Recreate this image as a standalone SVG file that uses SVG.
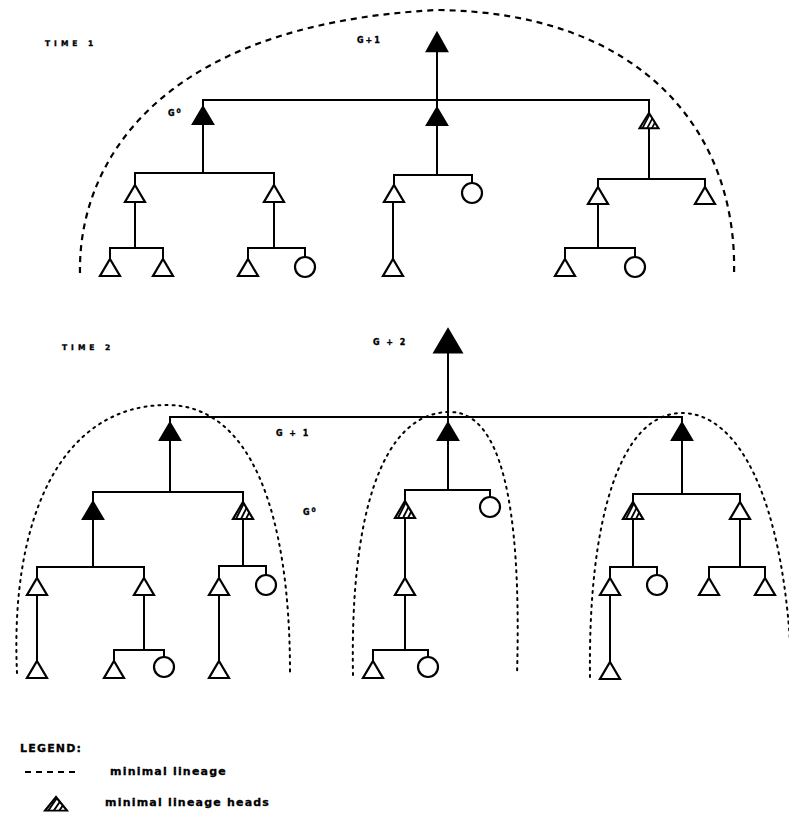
<svg xmlns="http://www.w3.org/2000/svg" xmlns:xlink="http://www.w3.org/1999/xlink" width="789" height="813" viewBox="0 0 789 813">
  <style>
    .ln { fill: none; stroke: #000; stroke-width: 2; stroke-linecap: square; }
    .dash { fill: none; stroke: #000; stroke-width: 2.2; stroke-dasharray: 6 5; }
    .dot { fill: none; stroke: #000; stroke-width: 2; stroke-dasharray: 2 5; stroke-linecap: round; }
    .open { fill: #fff; stroke: #000; stroke-width: 2.2; stroke-linejoin: miter; }
    .solid { fill: #000; stroke: #000; stroke-width: 2.2; }
    .circ { fill: #fff; stroke: #000; stroke-width: 2.2; }
    .lbl { font-family: "DejaVu Sans", "Liberation Sans", sans-serif; font-weight: bold; fill: #000; stroke: #000; stroke-width: 0.35; }
    .small { font-size: 7.5px; letter-spacing: 4px; }
    .gen { font-size: 8px; letter-spacing: 2px; }
    .leg { font-size: 11px; letter-spacing: 1.2px; stroke-width: 0.3; }
  </style>
  <defs>
    <clipPath id="triClip">
      <path d="M0,0 L10,17 L-10,17 Z"/>
    </clipPath>
    <!-- triangle glyphs: apex at origin, base 17 below -->
    <path id="tri" d="M0,0 L10,17 L-10,17 Z"/>
    <g id="tri-open"><use xlink:href="#tri" class="open"/></g>
    <g id="tri-solid"><use xlink:href="#tri" class="solid"/></g>
    <g id="tri-hatch">
      <use xlink:href="#tri" fill="#fff"/>
      <g clip-path="url(#triClip)" stroke="#000" stroke-width="1.8">
        <line x1="-7" y1="17" x2="1.5" y2="0"/>
        <line x1="-2" y1="17" x2="6.5" y2="0"/>
        <line x1="3" y1="17" x2="11.5" y2="0"/>
      </g>
      <use xlink:href="#tri" fill="none" stroke="#000" stroke-width="2.2"/>
    </g>
  </defs>

  <rect width="789" height="813" fill="#fff"/>

  <!-- lineage boundaries -->
  <g id="boundaries">
    <path class="dash" d="M80,273 C78,170 150,25 437,10 C640,12 738,130 734,275"/>
    <path class="dot" d="M17,673 C10,520 60,405 167,405 C250,405 290,510 290,673"/>
    <path class="dot" d="M353,675 C350,520 380,412 450,412 C500,412 522,500 517,675"/>
    <path class="dot" d="M590,677 C588,520 620,413 682,413 C735,413 786,490 792,680"/>
  </g>

  <!-- connectors -->
  <g id="connectors" class="ln">
    <!-- time 1 -->
    <path d="M437,51 V108 M203,100 H649 M203,100 V107 M649,100 V113"/>
    <path d="M203,124 V173 M135,173 H274 M135,173 V185 M274,173 V185"/>
    <path d="M135,202 V248 M110,248 H163 M110,248 V259 M163,248 V259"/>
    <path d="M274,202 V248 M248,248 H305 M248,248 V259 M305,248 V257"/>
    <path d="M437,125 V175 M394,175 H472 M394,175 V185 M472,175 V183"/>
    <path d="M393,202 V259"/>
    <path d="M649,130 V179 M598,179 H705 M598,179 V187 M705,179 V187"/>
    <path d="M598,204 V248 M565,248 H635 M565,248 V259 M635,248 V257"/>
    <!-- time 2 -->
    <path d="M448,352 V423 M170,417 H682 M170,417 V423 M682,417 V423"/>
    <path d="M170,440 V492 M93,492 H243 M93,492 V502 M243,492 V502"/>
    <path d="M93,519 V567 M37,567 H144 M37,567 V578 M144,567 V578"/>
    <path d="M37,595 V661"/>
    <path d="M144,595 V650 M114,650 H164 M114,650 V661 M164,650 V657"/>
    <path d="M243,519 V566 M219,566 H266 M219,566 V578 M266,566 V575"/>
    <path d="M219,595 V661"/>
    <path d="M448,440 V490 M405,490 H490 M405,490 V501 M490,490 V497"/>
    <path d="M405,518 V578 M405,595 V650 M373,650 H428 M373,650 V661 M428,650 V657"/>
    <path d="M682,440 V494 M633,494 H740 M633,494 V502 M740,494 V502"/>
    <path d="M633,519 V567 M610,567 H657 M610,567 V578 M657,567 V575"/>
    <path d="M610,595 V662"/>
    <path d="M740,519 V567 M709,567 H765 M709,567 V578 M765,567 V578"/>
  </g>

  <!-- TIME 1 nodes -->
  <g id="t1-g1-top"><use xlink:href="#tri-solid" transform="translate(437,33) scale(1,1.06)"/></g>
  <g id="t1-g0-left"><use xlink:href="#tri-solid" transform="translate(203,107)"/></g>
  <g id="t1-g0-mid"><use xlink:href="#tri-solid" transform="translate(437,108)"/></g>
  <g id="t1-g0-right"><use xlink:href="#tri-hatch" transform="translate(649,113) scale(0.95,0.9)"/></g>
  <g id="t1-a"><use xlink:href="#tri-open" transform="translate(135,185)"/></g>
  <g id="t1-b"><use xlink:href="#tri-open" transform="translate(274,185)"/></g>
  <g id="t1-a1"><use xlink:href="#tri-open" transform="translate(110,259)"/></g>
  <g id="t1-a2"><use xlink:href="#tri-open" transform="translate(163,259)"/></g>
  <g id="t1-b1"><use xlink:href="#tri-open" transform="translate(248,259)"/></g>
  <g id="t1-b2"><circle class="circ" cx="305" cy="267" r="10"/></g>
  <g id="t1-c"><use xlink:href="#tri-open" transform="translate(394,185)"/></g>
  <g id="t1-d"><circle class="circ" cx="472" cy="193" r="10"/></g>
  <g id="t1-c1"><use xlink:href="#tri-open" transform="translate(393,259)"/></g>
  <g id="t1-e"><use xlink:href="#tri-open" transform="translate(598,187)"/></g>
  <g id="t1-f"><use xlink:href="#tri-open" transform="translate(705,187)"/></g>
  <g id="t1-e1"><use xlink:href="#tri-open" transform="translate(565,259)"/></g>
  <g id="t1-e2"><circle class="circ" cx="635" cy="267" r="10"/></g>

  <!-- TIME 2 nodes -->
  <g id="t2-g2-top"><use xlink:href="#tri-solid" transform="translate(448,330) scale(1.3,1.3)"/></g>
  <g id="t2-g1-left"><use xlink:href="#tri-solid" transform="translate(170,423)"/></g>
  <g id="t2-g1-mid"><use xlink:href="#tri-solid" transform="translate(448,423)"/></g>
  <g id="t2-g1-right"><use xlink:href="#tri-solid" transform="translate(682,423)"/></g>
  <g id="t2-l-a"><use xlink:href="#tri-solid" transform="translate(93,502)"/></g>
  <g id="t2-l-b"><use xlink:href="#tri-hatch" transform="translate(243,502)"/></g>
  <g id="t2-l-a1"><use xlink:href="#tri-open" transform="translate(37,578)"/></g>
  <g id="t2-l-a2"><use xlink:href="#tri-open" transform="translate(144,578)"/></g>
  <g id="t2-l-a1a"><use xlink:href="#tri-open" transform="translate(37,661)"/></g>
  <g id="t2-l-a2a"><use xlink:href="#tri-open" transform="translate(114,661)"/></g>
  <g id="t2-l-a2b"><circle class="circ" cx="164" cy="667" r="10"/></g>
  <g id="t2-l-b1"><use xlink:href="#tri-open" transform="translate(219,578)"/></g>
  <g id="t2-l-b2"><circle class="circ" cx="266" cy="585" r="10"/></g>
  <g id="t2-l-b1a"><use xlink:href="#tri-open" transform="translate(219,661)"/></g>
  <g id="t2-m-a"><use xlink:href="#tri-hatch" transform="translate(405,501)"/></g>
  <g id="t2-m-b"><circle class="circ" cx="490" cy="507" r="10"/></g>
  <g id="t2-m-a1"><use xlink:href="#tri-open" transform="translate(405,578)"/></g>
  <g id="t2-m-a1a"><use xlink:href="#tri-open" transform="translate(373,661)"/></g>
  <g id="t2-m-a1b"><circle class="circ" cx="428" cy="667" r="10"/></g>
  <g id="t2-r-a"><use xlink:href="#tri-hatch" transform="translate(633,502)"/></g>
  <g id="t2-r-b"><use xlink:href="#tri-open" transform="translate(740,502)"/></g>
  <g id="t2-r-a1"><use xlink:href="#tri-open" transform="translate(610,578)"/></g>
  <g id="t2-r-a2"><circle class="circ" cx="657" cy="585" r="10"/></g>
  <g id="t2-r-a1a"><use xlink:href="#tri-open" transform="translate(610,662)"/></g>
  <g id="t2-r-b1"><use xlink:href="#tri-open" transform="translate(709,578)"/></g>
  <g id="t2-r-b2"><use xlink:href="#tri-open" transform="translate(765,578)"/></g>

  <!-- labels -->
  <g id="labels">
    <text class="lbl small" x="45" y="46">TIME 1</text>
    <text class="lbl gen" x="357" y="43">G+1</text>
    <text class="lbl gen" x="168" y="116">G<tspan font-size="6" dy="-3">0</tspan></text>
    <text class="lbl small" x="62" y="350">TIME 2</text>
    <text class="lbl gen" x="373" y="345">G + 2</text>
    <text class="lbl gen" x="276" y="436">G + 1</text>
    <text class="lbl gen" x="303" y="515">G<tspan font-size="6" dy="-3">0</tspan></text>
  </g>

  <!-- legend -->
  <g id="legend">
    <text class="lbl leg" x="20" y="752" letter-spacing="1.8">LEGEND:</text>
    <line class="dash" x1="25" y1="772" x2="80" y2="772" stroke-width="2"/>
    <text class="lbl leg" x="110" y="775">minimal lineage</text>
    <use xlink:href="#tri-hatch" transform="translate(56,797) scale(1.1,0.8)"/>
    <text class="lbl leg" x="105" y="806">minimal lineage heads</text>
  </g>
</svg>
